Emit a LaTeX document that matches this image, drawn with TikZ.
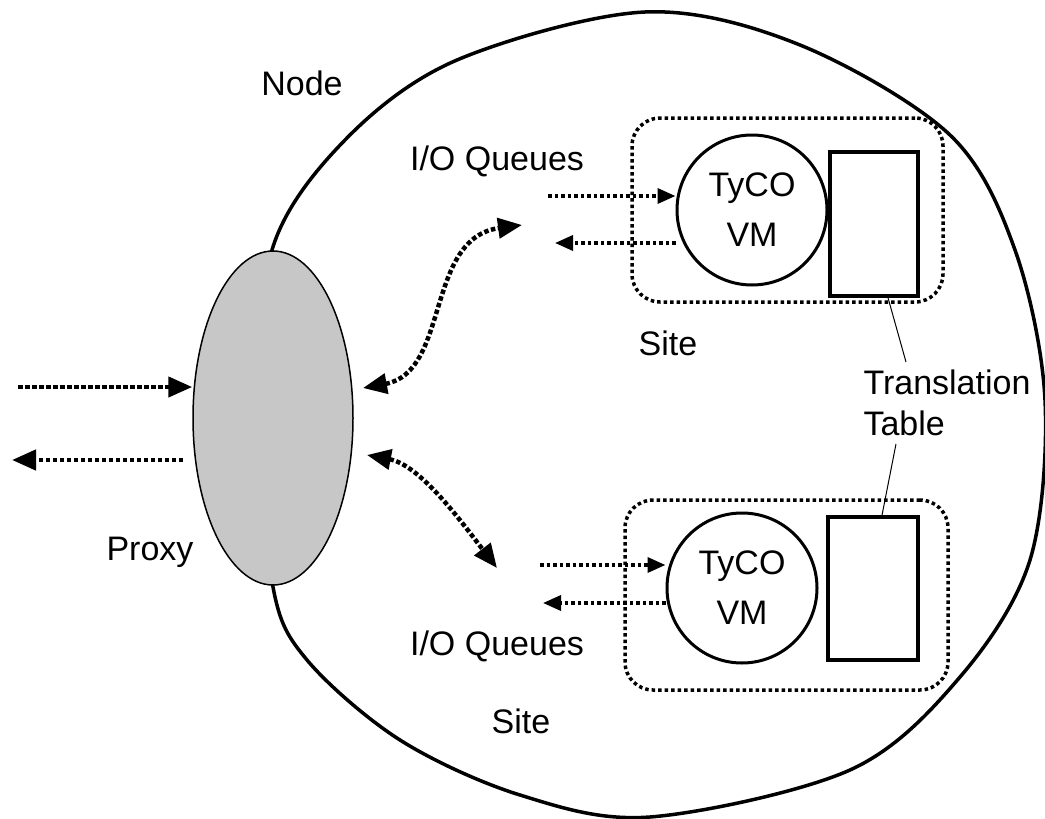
\documentclass[tikz,border=0pt]{standalone}
\usepackage{fontspec}
\setmainfont{Liberation Sans}
\usetikzlibrary{arrows.meta,shapes.geometric}

\begin{document}
\begin{tikzpicture}[
  x=1pt, y=-1pt,
  every node/.style={font=\fontsize{34}{40}\selectfont},
  outline/.style={line width=3.5pt},
  proxy/.style={ellipse, draw, line width=1.5pt, fill=black!22, minimum width=160pt, minimum height=334pt},
  sitebox/.style={draw, rounded corners=28pt, line width=3.5pt, dash pattern=on 3.5pt off 3pt},
  vm/.style={circle, draw, line width=3pt, minimum size=150pt, inner sep=0pt, align=center, font=\fontsize{34}{50}\selectfont},
  ttable/.style={draw, line width=3.5pt, minimum width=88pt, minimum height=144pt},
  bigflow/.style={line width=4.5pt, dash pattern=on 4.5pt off 2.5pt, -{Triangle[length=24pt,width=20pt]}},
  bothflow/.style={line width=4.5pt, dash pattern=on 4.5pt off 2.5pt, {Triangle[length=24pt,width=20pt]}-{Triangle[length=24pt,width=20pt]}},
  queue/.style={line width=3.5pt, dash pattern=on 3.5pt off 3pt, -{Triangle[length=18pt,width=15pt]}}
]
\useasboundingbox (0,0) rectangle (1045,819);

% Node boundary
\draw[outline] plot[smooth cycle, tension=0.55] coordinates {
  (645,12) (800,45) (950,135) (1015,250) (1045,400) (1030,560)
  (960,677) (850,770) (650,817) (520,795) (400,740) (307,660)
  (273,587) (262,420) (272,250) (345,140) (457,60)};
\node[anchor=base] (nodelbl) at (302,95) {Node};

% Proxy
\node[proxy] (proxy) at (273,418) {};
\node[anchor=base] (proxylbl) at (150,560) {Proxy};

\coordinate (inL) at (18,387);
\coordinate (outL) at (12,460);
\draw[bigflow] (inL) -- (185,387 -| proxy.west) coordinate (inR);
\draw[bigflow] (183,460) coordinate (outR) -- (outL);

% Upper site
\node[sitebox, minimum width=311pt, minimum height=184pt] (site1) at (787.5,210) {};
\node[vm] (vm1) at (752,210) {TyCO\\VM};
\node[ttable] (tt1) at (874,224) {};
\node[anchor=base] (q1lbl) at (497,170) {I/O Queues};
\node[anchor=base] (s1lbl) at (668,355) {Site};

\coordinate (q1in) at (548,196);
\coordinate (q1out) at (555,243);
\draw[queue] (q1in) -- (q1in -| vm1.west);
\draw[queue] (q1out -| vm1.west) -- (q1out);

% Lower site
\node[sitebox, minimum width=323pt, minimum height=190pt] (site2) at (786.5,595) {};
\node[vm] (vm2) at (742,588) {TyCO\\VM};
\node[ttable, minimum width=90pt, minimum height=143pt] (tt2) at (873,588.5) {};
\node[anchor=base] (q2lbl) at (497,655) {I/O Queues};
\node[anchor=base] (s2lbl) at (521,733) {Site};

\coordinate (q2in) at (540,565);
\coordinate (q2out) at (543,603);
\draw[queue] (q2in) -- (q2in -| vm2.west);
\draw[queue] (q2out -| vm2.west) -- (q2out);

% Proxy <-> I/O queues
\coordinate (p1) at (363,388);
\coordinate (p2) at (367,455);
\coordinate (a1) at (522,225);
\coordinate (a2) at (497,568);
\draw[bothflow] (p1) .. controls (450,372) and (425,238) .. (a1);
\draw[bothflow] (p2) .. controls (420,465) and (460,520) .. (a2);

% Translation table label
\node[anchor=base west, align=left, font=\fontsize{34}{41}\selectfont] (ttlbl) at (860,435) {Translation\\Table};
\draw[line width=1pt] ([xshift=14pt]tt1.south) -- (906,362);
\draw[line width=1pt] (896,444) -- ([xshift=9pt]tt2.north);
\end{tikzpicture}
\end{document}
